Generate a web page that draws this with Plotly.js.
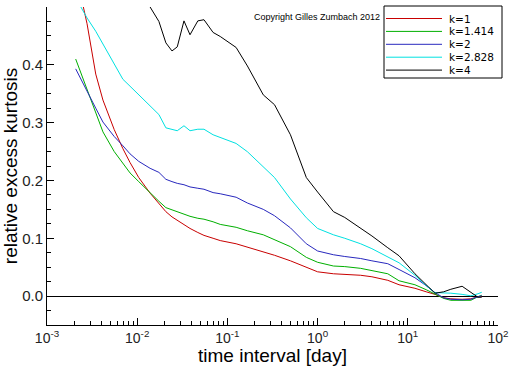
<!DOCTYPE html>
<html>
<head>
<meta charset="utf-8">
<script src="https://cdn.plot.ly/plotly-3.0.1.min.js"></script>
<style>html,body{margin:0;padding:0;background:#fff;}#chart{width:512px;height:366px;}</style>
</head>
<body>
<div id="chart"></div>
<script>
// time interval [day]
const timeDays = [0.00208,0.00278,0.00347,0.00417,0.00556,0.00694,0.00833,0.0104,0.0139,0.0174,
  0.0208,0.0243,0.0278,0.0330,0.0385,0.0470,0.0550,0.0694,0.0833,0.125,
  0.1667,0.25,0.333,0.5,0.75,1,1.5,2,3,4,
  6,8,12,16,20,25,30,40,50,60,66];

const k1 = [0.56,0.471,0.384,0.339,0.288,0.255,0.231,0.205,0.178,0.161,
  0.146,0.137,0.131,0.123,0.117,0.110,0.105,0.100,0.096,0.0905,
  0.085,0.0766,0.0706,0.061,0.050,0.042,0.0386,0.0377,0.036,0.0334,
  0.0273,0.0196,0.0135,0.0074,0.003,-0.003,-0.0047,-0.0055,-0.0047,-0.0012,-0.0003];

const k1414 = [0.410,0.358,0.317,0.284,0.250,0.230,0.213,0.198,0.178,0.164,
  0.153,0.149,0.146,0.1415,0.138,0.1346,0.133,0.1285,0.124,0.119,
  0.113,0.106,0.098,0.0855,0.067,0.0585,0.052,0.051,0.048,0.0446,
  0.0386,0.0265,0.0196,0.011,0.004,-0.004,-0.0073,-0.008,-0.0073,-0.001,0.0014];

const k2 = [0.393,0.356,0.325,0.301,0.276,0.260,0.246,0.233,0.221,0.214,
  0.202,0.198,0.195,0.1926,0.1888,0.1865,0.1848,0.179,0.177,0.171,
  0.161,0.150,0.139,0.118,0.0905,0.078,0.0715,0.0685,0.065,0.061,
  0.056,0.046,0.0317,0.018,0.006,-0.003,-0.0055,-0.0064,-0.0055,-0.001,0.0005];

const k2828 = [0.516,0.481,0.458,0.436,0.402,0.375,0.363,0.348,0.330,0.314,
  0.291,0.288,0.286,0.2946,0.286,0.2886,0.2886,0.279,0.2747,0.264,
  0.2497,0.224,0.205,0.168,0.1355,0.117,0.106,0.100,0.0905,0.082,
  0.068,0.0576,0.036,0.018,0.006,0.0057,0.005,0.003,0.0005,0.004,0.0066];

const k4 = [0.95,0.88,0.82,0.77,0.70,0.65,0.61,0.56,0.50,0.475,
  0.438,0.424,0.431,0.476,0.452,0.476,0.478,0.456,0.449,0.430,
  0.398,0.348,0.331,0.279,0.205,0.180,0.146,0.136,0.118,0.104,
  0.0836,0.0697,0.0386,0.0196,0.005,0.0074,0.0118,0.017,0.0057,-0.002,-0.002];

const seriesNames = ['k=1','k=1.414','k=2','k=2.828','k=4'];
const seriesColors = ['rgb(200,0,0)','rgb(0,175,0)','rgb(40,40,190)','rgb(0,225,225)','rgb(0,0,0)'];
const seriesValues = [k1,k1414,k2,k2828,k4];

const xTickVals = [0.001,0.01,0.1,1,10,100];
const xTickText = ['10<sup>-3</sup>','10<sup>-2</sup>','10<sup>-1</sup>','10<sup>0</sup>','10<sup>1</sup>','10<sup>2</sup>'];
const xMinorVals = [];
for (const d of [0.001,0.01,0.1,1,10]) for (let m = 2; m <= 9; m++) xMinorVals.push(d*m);

const traces = seriesValues.map((v,i) => ({
  x: timeDays, y: v, type: 'scatter', mode: 'lines', name: seriesNames[i],
  line: {color: seriesColors[i], width: 1}, showlegend: false
}));

// plot area in pixels (for placing the hand-built legend box)
const W = 512, H = 366, M = {l: 47, r: 14, t: 7, b: 41};
const pw = W - M.l - M.r, ph = H - M.t - M.b;
const px = v => (v - M.l) / pw;
const py = v => 1 - (v - M.t) / ph;

const font = 'Liberation Sans, Arial, sans-serif';
const shapes = [{
  type: 'rect', xref: 'paper', yref: 'paper',
  x0: px(384), x1: px(502), y0: py(6), y1: py(78),
  line: {color: '#000', width: 1}, fillcolor: '#fff', layer: 'above'
}];
const annotations = [{
  text: 'Copyright Gilles Zumbach 2012', xref: 'paper', yref: 'paper',
  x: px(317), y: py(17), xanchor: 'center', yanchor: 'middle', showarrow: false,
  font: {family: font, size: 9, color: '#000'}
}];
seriesNames.forEach((name, i) => {
  const yy = 18.5 + i * 12.9;
  shapes.push({
    type: 'line', xref: 'paper', yref: 'paper',
    x0: px(386), x1: px(442), y0: py(yy), y1: py(yy),
    line: {color: seriesColors[i], width: 1}, layer: 'above'
  });
  annotations.push({
    text: name, xref: 'paper', yref: 'paper', x: px(448), y: py(yy),
    xanchor: 'left', yanchor: 'middle', showarrow: false, borderpad: 0,
    font: {family: 'DejaVu Sans, sans-serif', size: 10.5, color: '#000'}
  });
});

const layout = {
  width: W, height: H,
  margin: M,
  paper_bgcolor: '#fff', plot_bgcolor: '#fff',
  showlegend: false,
  xaxis: {
    type: 'log', range: [-3, 2],
    showgrid: false, zeroline: false,
    showline: true, linecolor: '#000', linewidth: 1,
    ticks: 'inside', ticklen: 7, tickcolor: '#000',
    tickmode: 'array', tickvals: xTickVals, ticktext: xTickText,
    tickfont: {family: font, size: 14, color: '#222'},
    minor: {tickmode: 'array', tickvals: xMinorVals, ticks: 'inside', ticklen: 4, tickcolor: '#000', showgrid: false},
    title: {text: 'time interval [day]', font: {family: font, size: 19, color: '#000'}, standoff: 5}
  },
  yaxis: {
    range: [-0.05, 0.5],
    showgrid: false,
    zeroline: true, zerolinecolor: '#000', zerolinewidth: 1,
    showline: true, linecolor: '#000', linewidth: 1,
    ticks: 'inside', ticklen: 7, tickcolor: '#000',
    tick0: 0, dtick: 0.1, tickformat: '.1f',
    tickfont: {family: font, size: 15, color: '#222'},
    minor: {tick0: 0, dtick: 0.025, ticks: 'inside', ticklen: 4, tickcolor: '#000', showgrid: false},
    title: {text: 'relative excess kurtosis', font: {family: font, size: 19, color: '#000'}, standoff: 6}
  },
  shapes: shapes,
  annotations: annotations
};

Plotly.newPlot('chart', traces, layout, {displayModeBar: false, staticPlot: true});
</script>
</body>
</html>
